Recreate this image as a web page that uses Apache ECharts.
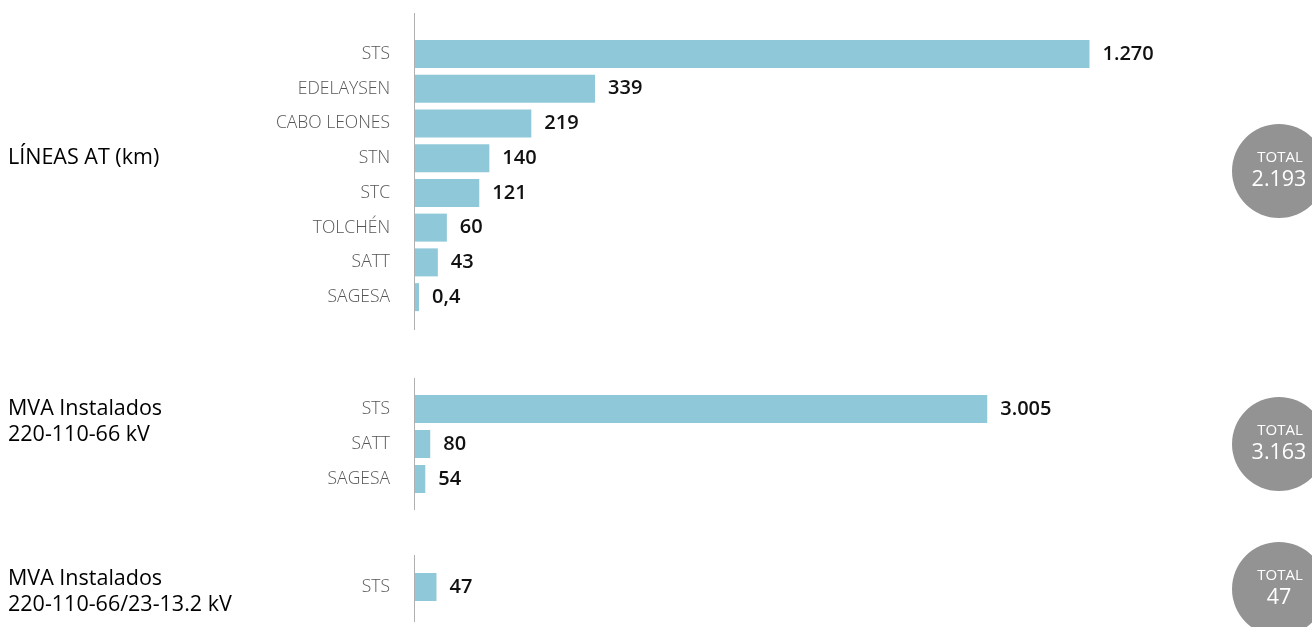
<!DOCTYPE html>
<html>
<head>
<meta charset="utf-8">
<script src="https://cdn.jsdelivr.net/npm/echarts@6/dist/echarts.min.js"></script>
<style>
  html, body { margin: 0; padding: 0; background: #fff; }
  #chart { width: 1312px; height: 627px; }
</style>
</head>
<body>
<div id="chart"></div>
<script>
// datos por bloque
const lineasCats = ['STS', 'EDELAYSEN', 'CABO LEONES', 'STN', 'STC', 'TOLCHÉN', 'SATT', 'SAGESA']
const lineasVals = [1270, 339, 219, 140, 121, 60, 43, 0.4]

const mva1Cats = ['STS', 'SATT', 'SAGESA']
const mva1Vals = [3005, 80, 54]

const mva2Cats = ['STS']
const mva2Vals = [47]

const titulos = ['LÍNEAS AT (km)', 'MVA Instalados\n220-110-66 kV', 'MVA Instalados\n220-110-66/23-13.2 kV']
const totales = [2193, 3163, 47]

const myChart = echarts.init(document.getElementById('chart'))

const FONT = '"Open Sans", "Noto Sans", sans-serif'
const BAR = '#8fc8d8'

// formato numérico chileno: 1.270 / 0,4
function fmt(v) {
  const parts = String(v).split('.')
  parts[0] = parts[0].replace(/\B(?=(\d{3})+(?!\d))/g, '.')
  return parts.join(',')
}

// posiciones de cada bloque
const bloques = [
  {cats: lineasCats, vals: lineasVals, top: 36.5, height: 278, max: 1318, y1: 13, y2: 330, cy: 171, ty: 145},
  {cats: mva1Cats, vals: mva1Vals, top: 391.5, height: 105, max: 3676, y1: 378, y2: 510, cy: 444, ty: 396},
  {cats: mva2Cats, vals: mva2Vals, top: 569.5, height: 35, max: 1532, y1: 555, y2: 622, cy: 589, ty: 566}
]

const grid = [], xAxis = [], yAxis = [], series = [], graphic = []

bloques.forEach((b, i) => {
  grid.push({left: 415, width: 700, top: b.top, height: b.height})
  xAxis.push({
    type: 'value', gridIndex: i, min: 0, max: b.max,
    show: false
  })
  yAxis.push({
    type: 'category', gridIndex: i, data: b.cats, inverse: true,
    axisLine: {show: false}, axisTick: {show: false},
    axisLabel: {color: '#555', fontFamily: FONT, fontSize: 17.5, fontWeight: 300, margin: 25}
  })
  series.push({
    type: 'bar', xAxisIndex: i, yAxisIndex: i, data: b.vals,
    barWidth: 28, barMinHeight: 4, silent: true,
    itemStyle: {color: BAR},
    label: {
      show: true, position: 'right', distance: 13,
      color: '#111', fontFamily: FONT, fontSize: 20, fontWeight: 600,
      formatter: p => fmt(p.value)
    }
  })
  // línea del eje
  graphic.push({
    type: 'line', silent: true,
    shape: {x1: 414.5, y1: b.y1, x2: 414.5, y2: b.y2},
    style: {stroke: '#b0b0b0', lineWidth: 1}
  })
  // título del bloque
  graphic.push({
    type: 'text', x: 8, y: b.ty,
    style: {text: titulos[i], fill: '#000', font: '500 21.5px ' + FONT, lineHeight: 26, verticalAlign: 'top'}
  })
  // círculo total
  graphic.push({
    type: 'circle', silent: true,
    shape: {cx: 1279, cy: b.cy, r: 47},
    style: {fill: '#939393'}
  })
  graphic.push({
    type: 'text', silent: true, x: 1280, y: b.cy - 13,
    style: {text: 'TOTAL', fill: '#fff', font: '500 15px ' + FONT, align: 'center', verticalAlign: 'middle'}
  })
  graphic.push({
    type: 'text', silent: true, x: 1279, y: b.cy + 9,
    style: {text: fmt(totales[i]), fill: '#fff', font: '400 21.5px ' + FONT, align: 'center', verticalAlign: 'middle'}
  })
})

const option = {
  animation: false,
  grid: grid,
  xAxis: xAxis,
  yAxis: yAxis,
  series: series,
  graphic: graphic
}

myChart.setOption(option)
</script>
</body>
</html>
